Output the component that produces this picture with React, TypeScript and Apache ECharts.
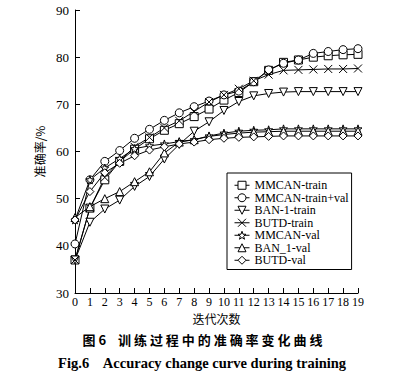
import React, { useEffect, useRef } from "react";
import * as echarts from "echarts";

const epochs = ["0","1","2","3","4","5","6","7","8","9","10","11","12","13","14","15","16","17","18","19"];
const mmcanTrain = [37, 48, 54, 57.9, 60.5, 62.7, 64.5, 65.9, 67.4, 69, 70.9, 72.5, 74.8, 77.2, 78.9, 79.4, 80, 80.3, 80.5, 80.6];
const mmcanTrainVal = [40.4, 54, 57.9, 60.2, 62.8, 64.7, 66.6, 68.2, 69.5, 70.7, 72, 72.8, 74.8, 77.3, 78.7, 79.4, 80.8, 81.2, 81.6, 81.8];
const ban1Train = [37, 45, 47.8, 49.7, 52.6, 54.7, 58.4, 61.5, 64.3, 66.3, 68.7, 70.6, 71.8, 72.3, 72.6, 72.7, 72.7, 72.7, 72.7, 72.7];
const butdTrain = [37, 48, 54.5, 58, 61, 63, 65, 66.5, 68.5, 70.5, 72, 73.3, 75, 76.3, 77.2, 77.3, 77.4, 77.5, 77.5, 77.6];
const mmcanVal = [45.5, 54, 56.5, 58.5, 60.6, 61.2, 61.6, 62.1, 62.5, 63.3, 63.9, 64.3, 64.5, 64.6, 64.8, 64.8, 64.8, 64.8, 64.8, 64.8];
const ban1Val = [46, 48.3, 50, 51.5, 53.6, 55.7, 59.7, 62, 62.5, 63.2, 63.6, 63.9, 64.1, 64.2, 64.3, 64.3, 64.3, 64.3, 64.3, 64.3];
const butdVal = [45.5, 51.5, 55.5, 57.5, 59.1, 60.3, 61, 61.6, 62, 62.5, 62.8, 63, 63.1, 63.2, 63.3, 63.3, 63.3, 63.3, 63.3, 63.3];

const names = ["MMCAN-train", "MMCAN-train+val", "BAN-1-train", "BUTD-train", "MMCAN-val", "BAN_1-val", "BUTD-val"];
const seriesData = [mmcanTrain, mmcanTrainVal, ban1Train, butdTrain, mmcanVal, ban1Val, butdVal];
const symbols = [
  "rect",
  "circle",
  "triangle",
  "path://M0,0L10,10M10,0L0,10",
  "path://M5,0L6.2,3.4L9.8,3.5L7,5.7L8,9.2L5,7.2L2,9.2L3,5.7L0.2,3.5L3.8,3.4Z",
  "triangle",
  "diamond",
];
const rotates = [0, 0, 180, 0, 0, 0, 0];

const serif = "'Liberation Serif', 'Times New Roman', serif";
const cjk = "'Noto Sans CJK SC', sans-serif";

export default function App() {
  const ref = useRef<HTMLDivElement>(null);
  useEffect(() => {
    if (!ref.current) return;
    const chart = echarts.init(ref.current, null, { renderer: "svg" });
    chart.setOption({
      animation: false,
      backgroundColor: "#fff",
      grid: { left: 75, right: 47, top: 10, bottom: 91 },
      legend: {
        orient: "vertical",
        left: 227,
        top: 173,
        padding: [6, 3, 3, 7],
        borderColor: "#000",
        borderWidth: 1,
        itemWidth: 15,
        itemHeight: 10,
        itemGap: 0,
        itemStyle: { color: "#fff", borderColor: "#000", borderWidth: 1 },
        lineStyle: { color: "#000", width: 1 },
        textStyle: { fontFamily: serif, fontSize: 12, color: "#000", lineHeight: 12.5 },
        data: names,
      },
      xAxis: {
        type: "category",
        data: epochs,
        boundaryGap: false,
        name: "迭代次数",
        nameLocation: "middle",
        nameGap: 18,
        nameTextStyle: { fontFamily: cjk, fontSize: 12, color: "#000" },
        axisLine: { lineStyle: { color: "#000", width: 1 } },
        axisTick: { inside: true, length: 5, lineStyle: { color: "#000" } },
        axisLabel: { fontFamily: serif, fontSize: 12, color: "#000", margin: 3, interval: 0 },
        splitLine: { show: false },
      },
      yAxis: {
        type: "value",
        min: 30,
        max: 90,
        interval: 10,
        name: "准确率/%",
        nameLocation: "middle",
        nameGap: 28,
        nameRotate: 90,
        nameTextStyle: { fontFamily: cjk, fontSize: 12, color: "#000" },
        axisLine: { show: true, lineStyle: { color: "#000", width: 1 } },
        axisTick: { show: true, inside: true, length: 5, lineStyle: { color: "#000" } },
        axisLabel: { fontFamily: serif, fontSize: 13, color: "#000", margin: 6 },
        splitLine: { show: false },
      },
      series: names.map((n, i) => ({
        name: n,
        type: "line",
        data: seriesData[i],
        symbol: symbols[i],
        symbolRotate: rotates[i],
        symbolSize: 8,
        showAllSymbol: true,
        lineStyle: { color: "#000", width: 1 },
        itemStyle: { color: "#fff", borderColor: "#000", borderWidth: 1 },
        emphasis: { disabled: true },
      })),
      graphic: [
        {
          type: "text",
          left: "center",
          top: 333,
          style: {
            text: "图 6    训 练 过 程 中 的 准 确 率 变 化 曲 线",
            fontFamily: cjk,
            fontSize: 13,
            fontWeight: "bold",
            fill: "#000",
          },
        },
        {
          type: "text",
          left: "center",
          top: 355,
          style: {
            text: "Fig.6    Accuracy change curve during training",
            fontFamily: serif,
            fontSize: 14.5,
            fontWeight: "bold",
            fill: "#000",
          },
        },
      ],
    });
    return () => chart.dispose();
  }, []);
  return <div ref={ref} style={{ position: "fixed", left: 0, top: 0, width: 405, height: 384 }} />;
}
